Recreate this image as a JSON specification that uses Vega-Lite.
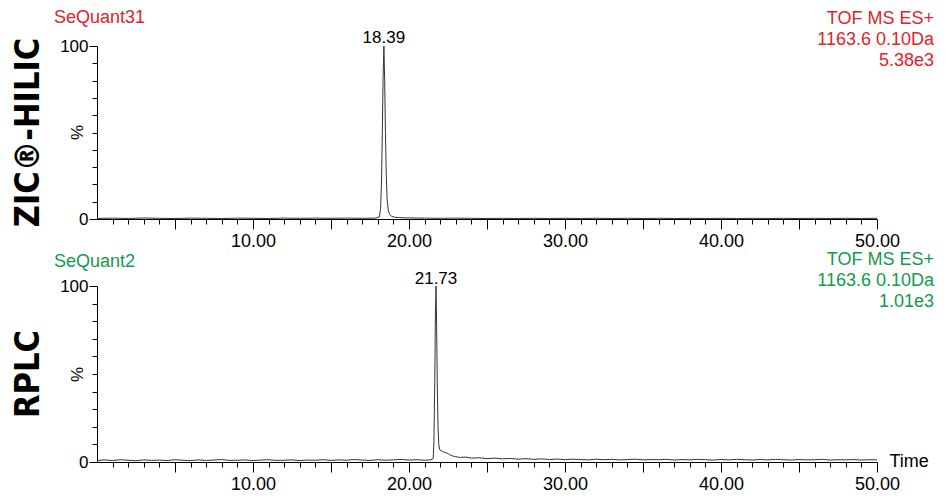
{
  "$schema": "https://vega.github.io/schema/vega-lite/v6.json",
  "background": "white",
  "padding": {"left": 11, "top": 9, "right": 5, "bottom": 0},
  "spacing": 1,
  "config": {
    "view": {"stroke": null},
    "font": "Liberation Sans",
    "axis": {"grid": false, "labelOverlap": false, "domainColor": "black", "tickColor": "black", "labelColor": "black", "titleColor": "black", "labelFont": "Liberation Sans", "titleFont": "Liberation Sans", "domainWidth": 1, "tickWidth": 1}
  },
  "datasets": {
    "top": [
      {"t": 0, "v": 0.3}, {"t": 1, "v": 0.5}, {"t": 2, "v": 0.3}, {"t": 3, "v": 0.6}, {"t": 4, "v": 0.4}, {"t": 5, "v": 0.3}, {"t": 6, "v": 0.5}, {"t": 7, "v": 0.4}, {"t": 8, "v": 0.3}, {"t": 9, "v": 0.5}, {"t": 10, "v": 0.4}, {"t": 11, "v": 0.3}, {"t": 12, "v": 0.5}, {"t": 13, "v": 0.4}, {"t": 14, "v": 0.5}, {"t": 15, "v": 0.4}, {"t": 16, "v": 0.5}, {"t": 17, "v": 0.4}, {"t": 17.8, "v": 0.5},
      {"t": 18.1, "v": 1.2}, {"t": 18.18, "v": 6}, {"t": 18.24, "v": 22}, {"t": 18.29, "v": 50}, {"t": 18.34, "v": 82}, {"t": 18.39, "v": 100}, {"t": 18.44, "v": 80}, {"t": 18.49, "v": 50}, {"t": 18.54, "v": 26}, {"t": 18.6, "v": 11}, {"t": 18.67, "v": 5}, {"t": 18.76, "v": 2.6}, {"t": 18.9, "v": 1.5}, {"t": 19.1, "v": 1.0}, {"t": 19.4, "v": 0.8},
      {"t": 20, "v": 0.6}, {"t": 21, "v": 0.5}, {"t": 22, "v": 0.4}, {"t": 23, "v": 0.5}, {"t": 24, "v": 0.4}, {"t": 25, "v": 0.3}, {"t": 26, "v": 0.4}, {"t": 27, "v": 0.3}, {"t": 28, "v": 0.4}, {"t": 29, "v": 0.3}, {"t": 30, "v": 0.4}, {"t": 31, "v": 0.3}, {"t": 32, "v": 0.4}, {"t": 33, "v": 0.3}, {"t": 34, "v": 0.4}, {"t": 35, "v": 0.3}, {"t": 36, "v": 0.4}, {"t": 37, "v": 0.3}, {"t": 38, "v": 0.4}, {"t": 39, "v": 0.3}, {"t": 40, "v": 0.4}, {"t": 41, "v": 0.3}, {"t": 42, "v": 0.4}, {"t": 43, "v": 0.3}, {"t": 44, "v": 0.4}, {"t": 45, "v": 0.3}, {"t": 46, "v": 0.4}, {"t": 47, "v": 0.3}, {"t": 48, "v": 0.4}, {"t": 49, "v": 0.3}, {"t": 50, "v": 0.4}
    ],
    "bottom": [
      {"t": 0, "v": 0.9}, {"t": 0.5, "v": 1.2}, {"t": 1, "v": 0.8}, {"t": 1.5, "v": 1.3}, {"t": 2, "v": 1.0}, {"t": 2.5, "v": 0.7}, {"t": 3, "v": 1.2}, {"t": 3.5, "v": 0.9}, {"t": 4, "v": 1.1}, {"t": 4.5, "v": 0.8}, {"t": 5, "v": 1.3}, {"t": 5.5, "v": 1.0}, {"t": 6, "v": 0.8}, {"t": 6.5, "v": 1.2}, {"t": 7, "v": 0.9}, {"t": 7.5, "v": 1.1}, {"t": 8, "v": 1.4}, {"t": 8.5, "v": 0.9}, {"t": 9, "v": 1.0}, {"t": 9.5, "v": 1.2}, {"t": 10, "v": 0.8}, {"t": 10.5, "v": 1.1}, {"t": 11, "v": 1.3}, {"t": 11.5, "v": 0.9}, {"t": 12, "v": 1.0}, {"t": 12.5, "v": 1.2}, {"t": 13, "v": 0.8}, {"t": 13.5, "v": 1.1}, {"t": 14, "v": 1.0}, {"t": 14.5, "v": 1.3}, {"t": 15, "v": 0.9}, {"t": 15.5, "v": 1.2}, {"t": 16, "v": 1.0}, {"t": 16.5, "v": 1.4}, {"t": 17, "v": 1.1}, {"t": 17.5, "v": 0.9}, {"t": 18, "v": 1.3}, {"t": 18.5, "v": 1.0}, {"t": 19, "v": 1.2}, {"t": 19.5, "v": 1.5}, {"t": 20, "v": 1.1}, {"t": 20.5, "v": 1.3}, {"t": 21, "v": 1.0}, {"t": 21.4, "v": 1.2},
      {"t": 21.55, "v": 2}, {"t": 21.6, "v": 12}, {"t": 21.65, "v": 45}, {"t": 21.69, "v": 82}, {"t": 21.73, "v": 100}, {"t": 21.77, "v": 78}, {"t": 21.81, "v": 45}, {"t": 21.86, "v": 20}, {"t": 21.91, "v": 10}, {"t": 21.97, "v": 7}, {"t": 22.05, "v": 6.5}, {"t": 22.15, "v": 6}, {"t": 22.3, "v": 5.4}, {"t": 22.45, "v": 5}, {"t": 22.6, "v": 4.2}, {"t": 22.8, "v": 3.4}, {"t": 23, "v": 3.0}, {"t": 23.3, "v": 2.6}, {"t": 23.6, "v": 2.8}, {"t": 24, "v": 2.2}, {"t": 24.5, "v": 2.4}, {"t": 25, "v": 1.9}, {"t": 25.5, "v": 2.2}, {"t": 26, "v": 1.8}, {"t": 26.5, "v": 2.0}, {"t": 27, "v": 1.6}, {"t": 27.5, "v": 1.9}, {"t": 28, "v": 1.5}, {"t": 28.5, "v": 1.8}, {"t": 29, "v": 1.4}, {"t": 29.5, "v": 1.7}, {"t": 30, "v": 1.3}, {"t": 30.5, "v": 1.6}, {"t": 31, "v": 1.4}, {"t": 31.5, "v": 1.2}, {"t": 32, "v": 1.6}, {"t": 32.5, "v": 1.3}, {"t": 33, "v": 1.5}, {"t": 33.5, "v": 1.2}, {"t": 34, "v": 1.4}, {"t": 34.5, "v": 1.6}, {"t": 35, "v": 1.2}, {"t": 35.5, "v": 1.4}, {"t": 36, "v": 1.3}, {"t": 36.5, "v": 1.5}, {"t": 37, "v": 1.1}, {"t": 37.5, "v": 1.4}, {"t": 38, "v": 1.2}, {"t": 38.5, "v": 1.5}, {"t": 39, "v": 1.3}, {"t": 39.5, "v": 1.1}, {"t": 40, "v": 1.4}, {"t": 40.5, "v": 1.2}, {"t": 41, "v": 1.5}, {"t": 41.5, "v": 1.3}, {"t": 42, "v": 1.1}, {"t": 42.5, "v": 1.4}, {"t": 43, "v": 1.2}, {"t": 43.5, "v": 1.5}, {"t": 44, "v": 1.3}, {"t": 44.5, "v": 1.1}, {"t": 45, "v": 1.4}, {"t": 45.5, "v": 1.2}, {"t": 46, "v": 1.3}, {"t": 46.5, "v": 1.5}, {"t": 47, "v": 1.1}, {"t": 47.5, "v": 1.3}, {"t": 48, "v": 1.2}, {"t": 48.5, "v": 1.4}, {"t": 49, "v": 1.1}, {"t": 49.5, "v": 1.3}, {"t": 50, "v": 1.2}
    ]
  },
  "vconcat": [
    {
      "width": 780,
      "height": 173,
      "title": {"text": "ZIC®-HILIC", "orient": "left", "anchor": "middle", "font": "DejaVu Sans Condensed", "fontSize": 34, "fontWeight": "bold", "color": "black", "offset": 8},
      "encoding": {
        "x": {"field": "t", "type": "quantitative", "scale": {"domain": [0, 50], "nice": false, "zero": false},
          "axis": {"values": [1,2,3,4,5,6,7,8,9,10,11,12,13,14,15,16,17,18,19,20,21,22,23,24,25,26,27,28,29,30,31,32,33,34,35,36,37,38,39,40,41,42,43,44,45,46,47,48,49,50],
            "labelExpr": "datum.value % 10 === 0 ? format(datum.value, '.2f') : ''",
            "tickSize": {"condition": {"test": "datum.value % 5 === 0", "value": 10}, "value": 5},
            "labelOverlap": false, "labelFlush": false, "labelFontSize": 18, "labelPadding": 3, "title": null}},
        "y": {"field": "v", "type": "quantitative", "scale": {"domain": [0, 100], "nice": false},
          "axis": {"values": [0,10,20,30,40,50,60,70,80,90,100],
            "labelExpr": "datum.value === 0 || datum.value === 100 ? datum.label : ''",
            "tickSize": {"condition": {"test": "datum.value === 0 || datum.value === 100", "value": 8}, "value": 5},
            "labelOverlap": false, "labelFontSize": 17, "labelPadding": 1,
            "title": "%", "titleAngle": 270, "titleX": -20, "titleY": 86, "titleAlign": "center", "titleBaseline": "middle", "titleFontSize": 17, "titleFontWeight": "normal"}}
      },
      "layer": [
        {
          "data": {"name": "top"},
          "mark": {"type": "line", "color": "#333333", "strokeWidth": 1}
        },
        {
          "data": {"values": [{"t": 18.39, "v": 100, "label": "18.39"}]},
          "mark": {"type": "text", "dy": -3, "fontSize": 17, "baseline": "alphabetic", "color": "black"},
          "encoding": {"text": {"field": "label"}}
        },
        {
          "data": {"values": [{"t": 0, "v": 100, "label": "SeQuant31"}]},
          "mark": {"type": "text", "align": "left", "dx": -43, "dy": -23, "fontSize": 18, "baseline": "alphabetic", "color": "#e3222a"},
          "encoding": {"text": {"field": "label"}}
        },
        {
          "data": {"values": [{"t": 50, "v": 100, "label": "TOF MS ES+\n1163.6 0.10Da\n5.38e3"}]},
          "mark": {"type": "text", "align": "right", "dx": 57, "dy": -22, "fontSize": 18, "lineHeight": 21, "lineBreak": "\n", "baseline": "alphabetic", "color": "#e3222a"},
          "encoding": {"text": {"field": "label"}}
        }
      ]
    },
    {
      "width": 780,
      "height": 176,
      "title": {"text": "RPLC", "orient": "left", "anchor": "middle", "font": "DejaVu Sans Condensed", "fontSize": 34, "fontWeight": "bold", "color": "black", "offset": 8},
      "encoding": {
        "x": {"field": "t", "type": "quantitative", "scale": {"domain": [0, 50], "nice": false, "zero": false},
          "axis": {"values": [1,2,3,4,5,6,7,8,9,10,11,12,13,14,15,16,17,18,19,20,21,22,23,24,25,26,27,28,29,30,31,32,33,34,35,36,37,38,39,40,41,42,43,44,45,46,47,48,49,50],
            "labelExpr": "datum.value % 10 === 0 ? format(datum.value, '.2f') : ''",
            "tickSize": {"condition": {"test": "datum.value % 5 === 0", "value": 10}, "value": 5},
            "labelOverlap": false, "labelFlush": false, "labelFontSize": 18, "labelPadding": 3,
            "title": "Time", "titleX": 792, "titleY": -1, "titleAlign": "left", "titleBaseline": "middle", "titleFontSize": 18, "titleFontWeight": "normal"}},
        "y": {"field": "v", "type": "quantitative", "scale": {"domain": [0, 100], "nice": false},
          "axis": {"values": [0,10,20,30,40,50,60,70,80,90,100],
            "labelExpr": "datum.value === 0 || datum.value === 100 ? datum.label : ''",
            "tickSize": {"condition": {"test": "datum.value === 0 || datum.value === 100", "value": 8}, "value": 5},
            "labelOverlap": false, "labelFontSize": 17, "labelPadding": 1,
            "title": "%", "titleAngle": 270, "titleX": -20, "titleY": 88, "titleAlign": "center", "titleBaseline": "middle", "titleFontSize": 17, "titleFontWeight": "normal"}}
      },
      "layer": [
        {
          "data": {"name": "bottom"},
          "mark": {"type": "line", "color": "#333333", "strokeWidth": 1}
        },
        {
          "data": {"values": [{"t": 21.73, "v": 100, "label": "21.73"}]},
          "mark": {"type": "text", "dy": -2, "fontSize": 17, "baseline": "alphabetic", "color": "black"},
          "encoding": {"text": {"field": "label"}}
        },
        {
          "data": {"values": [{"t": 0, "v": 100, "label": "SeQuant2"}]},
          "mark": {"type": "text", "align": "left", "dx": -43, "dy": -19, "fontSize": 18, "baseline": "alphabetic", "color": "#129b4c"},
          "encoding": {"text": {"field": "label"}}
        },
        {
          "data": {"values": [{"t": 50, "v": 100, "label": "TOF MS ES+\n1163.6 0.10Da\n1.01e3"}]},
          "mark": {"type": "text", "align": "right", "dx": 57, "dy": -21, "fontSize": 18, "lineHeight": 21, "lineBreak": "\n", "baseline": "alphabetic", "color": "#129b4c"},
          "encoding": {"text": {"field": "label"}}
        }
      ]
    }
  ]
}
